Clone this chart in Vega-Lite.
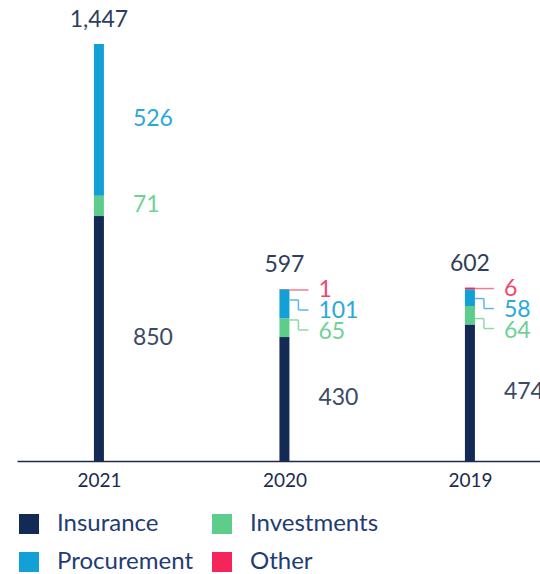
{
  "$schema": "https://vega.github.io/schema/vega-lite/v6.json",
  "width": 523,
  "height": 461,
  "autosize": {"type": "none"},
  "padding": {"left": 17, "top": 0, "right": 0, "bottom": 113},
  "config": {"view": {"stroke": null}, "font": "Lato"},
  "data": {
    "values": [
      {"year": "2021", "cat": "Insurance", "value": 850},
      {"year": "2021", "cat": "Investments", "value": 71},
      {"year": "2021", "cat": "Procurement", "value": 526},
      {"year": "2021", "cat": "Other", "value": 0},
      {"year": "2020", "cat": "Insurance", "value": 430},
      {"year": "2020", "cat": "Investments", "value": 65},
      {"year": "2020", "cat": "Procurement", "value": 101},
      {"year": "2020", "cat": "Other", "value": 1},
      {"year": "2019", "cat": "Insurance", "value": 474},
      {"year": "2019", "cat": "Investments", "value": 64},
      {"year": "2019", "cat": "Procurement", "value": 58},
      {"year": "2019", "cat": "Other", "value": 6}
    ]
  },
  "transform": [
    {"calculate": "indexof(['Insurance','Investments','Procurement','Other'], datum.cat)", "as": "ord"},
    {"stack": "value", "groupby": ["year"], "sort": [{"field": "ord", "order": "ascending"}], "as": ["v0", "v1"]},
    {"joinaggregate": [{"op": "sum", "field": "value", "as": "total"}], "groupby": ["year"]},
    {"calculate": "(datum.v0 + datum.v1) / 2", "as": "mid"}
  ],
  "encoding": {
    "x": {
      "field": "year",
      "type": "nominal",
      "sort": ["2021", "2020", "2019"],
      "scale": {"type": "point", "padding": 0.4097, "align": 0.539},
      "axis": {
        "title": null,
        "labelAngle": 0,
        "ticks": false,
        "domainColor": "#1b2b50",
        "domainWidth": 1.5,
        "labelFont": "Lato",
        "labelFontSize": 19,
        "labelFontWeight": "normal",
        "labelColor": "#1b2b50",
        "labelPadding": 10
      }
    }
  },
  "layer": [
    {
      "mark": {"type": "bar", "size": 10},
      "encoding": {
        "y": {"field": "v0", "type": "quantitative", "scale": {"domain": [0, 1600], "nice": false}, "axis": null},
        "y2": {"field": "v1"},
        "color": {
          "field": "cat",
          "type": "nominal",
          "scale": {"domain": ["Insurance", "Procurement", "Investments", "Other"], "range": ["#132a54", "#12a0d6", "#5ecc8a", "#f5245a"]},
          "legend": {
            "orient": "none",
            "legendX": 0,
            "legendY": 512,
            "title": null,
            "columns": 2,
            "columnPadding": 16,
            "rowPadding": 14,
            "symbolType": "square",
            "symbolSize": 400,
            "symbolStrokeWidth": 0,
            "symbolOpacity": 1,
            "labelFont": "Lato",
            "labelFontSize": 24,
            "labelColor": "#1f3c74",
            "labelOffset": 16,
            "labelLimit": 300
          }
        }
      }
    },
    {
      "transform": [{"filter": "datum.cat == 'Insurance'"}],
      "mark": {"type": "text", "align": "center", "baseline": "alphabetic", "dy": -17, "fontSize": 23, "font": "Lato", "color": "#2e3e5c"},
      "encoding": {
        "y": {"field": "total", "type": "quantitative", "scale": {"domain": [0, 1600], "nice": false}, "axis": null},
        "text": {"field": "total", "type": "quantitative", "format": ","}
      }
    },
    {
      "transform": [{"filter": "(datum.year == '2021' && datum.cat != 'Other') || datum.cat == 'Insurance'"}],
      "mark": {"type": "text", "align": "left", "baseline": "alphabetic", "dx": 34, "dy": 6, "fontSize": 23, "font": "Lato"},
      "encoding": {
        "y": {"field": "mid", "type": "quantitative", "scale": {"domain": [0, 1600], "nice": false}, "axis": null},
        "text": {"field": "value", "type": "quantitative"},
        "fill": {
          "field": "cat",
          "type": "nominal",
          "scale": {"domain": ["Insurance", "Investments", "Procurement", "Other"], "range": ["#3b4a67", "#6fd196", "#2aa8dd", "#f0476f"]},
          "legend": null
        }
      }
    },
    {
      "transform": [{"filter": "datum.year != '2021' && datum.cat == 'Other'"}],
      "mark": {"type": "text", "align": "left", "baseline": "alphabetic", "dx": 34, "dy": 8, "fontSize": 23, "font": "Lato", "color": "#f0476f"},
      "encoding": {
        "y": {"field": "total", "type": "quantitative", "scale": {"domain": [0, 1600], "nice": false}, "axis": null},
        "text": {"field": "value", "type": "quantitative"}
      }
    },
    {
      "transform": [{"filter": "datum.year != '2021' && datum.cat == 'Procurement'"}],
      "mark": {"type": "text", "align": "left", "baseline": "alphabetic", "dx": 34, "dy": 29, "fontSize": 23, "font": "Lato", "color": "#2aa8dd"},
      "encoding": {
        "y": {"field": "total", "type": "quantitative", "scale": {"domain": [0, 1600], "nice": false}, "axis": null},
        "text": {"field": "value", "type": "quantitative"}
      }
    },
    {
      "transform": [{"filter": "datum.year != '2021' && datum.cat == 'Investments'"}],
      "mark": {"type": "text", "align": "left", "baseline": "alphabetic", "dx": 34, "dy": 50, "fontSize": 23, "font": "Lato", "color": "#6fd196"},
      "encoding": {
        "y": {"field": "total", "type": "quantitative", "scale": {"domain": [0, 1600], "nice": false}, "axis": null},
        "text": {"field": "value", "type": "quantitative"}
      }
    },
    {
      "transform": [{"filter": "datum.year != '2021' && datum.cat == 'Other'"}],
      "mark": {"type": "rule", "xOffset": 5, "x2Offset": 24, "yOffset": 1, "color": "#f27a98", "strokeWidth": 1.5},
      "encoding": {
        "x2": {"field": "year"},
        "y": {"field": "total", "type": "quantitative", "scale": {"domain": [0, 1600], "nice": false}, "axis": null}
      }
    },
    {
      "transform": [{"filter": "datum.year != '2021' && datum.cat == 'Procurement'"}],
      "mark": {"type": "rule", "xOffset": 5, "x2Offset": 14, "yOffset": 11, "color": "#5ab9e3", "strokeWidth": 1.5},
      "encoding": {
        "x2": {"field": "year"},
        "y": {"field": "total", "type": "quantitative", "scale": {"domain": [0, 1600], "nice": false}, "axis": null}
      }
    },
    {
      "transform": [{"filter": "datum.year != '2021' && datum.cat == 'Procurement'"}],
      "mark": {"type": "rule", "xOffset": 14, "yOffset": 11, "y2Offset": 21, "color": "#5ab9e3", "strokeWidth": 1.5},
      "encoding": {
        "y": {"field": "total", "type": "quantitative", "scale": {"domain": [0, 1600], "nice": false}, "axis": null},
        "y2": {"field": "total"}
      }
    },
    {
      "transform": [{"filter": "datum.year != '2021' && datum.cat == 'Procurement'"}],
      "mark": {"type": "rule", "xOffset": 14, "x2Offset": 24, "yOffset": 21, "color": "#5ab9e3", "strokeWidth": 1.5},
      "encoding": {
        "x2": {"field": "year"},
        "y": {"field": "total", "type": "quantitative", "scale": {"domain": [0, 1600], "nice": false}, "axis": null}
      }
    },
    {
      "transform": [{"filter": "datum.year != '2021' && datum.cat == 'Investments'"}],
      "mark": {"type": "rule", "xOffset": 5, "x2Offset": 14, "yOffset": 31, "color": "#8ed9a9", "strokeWidth": 1.5},
      "encoding": {
        "x2": {"field": "year"},
        "y": {"field": "total", "type": "quantitative", "scale": {"domain": [0, 1600], "nice": false}, "axis": null}
      }
    },
    {
      "transform": [{"filter": "datum.year != '2021' && datum.cat == 'Investments'"}],
      "mark": {"type": "rule", "xOffset": 14, "yOffset": 31, "y2Offset": 41, "color": "#8ed9a9", "strokeWidth": 1.5},
      "encoding": {
        "y": {"field": "total", "type": "quantitative", "scale": {"domain": [0, 1600], "nice": false}, "axis": null},
        "y2": {"field": "total"}
      }
    },
    {
      "transform": [{"filter": "datum.year != '2021' && datum.cat == 'Investments'"}],
      "mark": {"type": "rule", "xOffset": 14, "x2Offset": 24, "yOffset": 41, "color": "#8ed9a9", "strokeWidth": 1.5},
      "encoding": {
        "x2": {"field": "year"},
        "y": {"field": "total", "type": "quantitative", "scale": {"domain": [0, 1600], "nice": false}, "axis": null}
      }
    }
  ]
}
